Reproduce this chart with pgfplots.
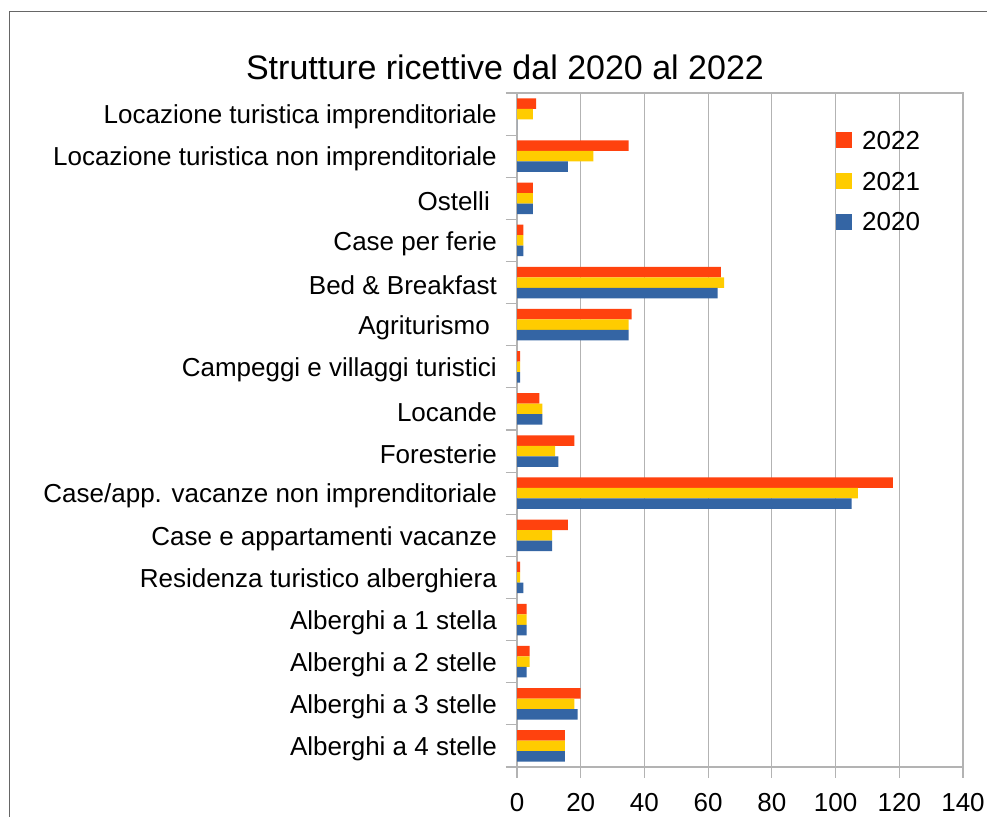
\documentclass[border=0pt]{standalone}
\usepackage{pgfplots}
\pgfplotsset{compat=1.18}
\usepackage{fontspec}
\setmainfont{Liberation Sans}
\definecolor{c22}{HTML}{FF420E}
\definecolor{c21}{HTML}{FFCC00}
\definecolor{c20}{HTML}{3465A4}
\definecolor{gridc}{HTML}{B3B3B3}
\begin{document}
\begin{tikzpicture}
\useasboundingbox (0pt,0pt) rectangle (987pt,816pt);
\fill[white] (0pt,0pt) rectangle (987pt,816pt);
\draw[line width=1.5pt, color=black!60] (9.5pt,-5pt) -- (9.5pt,804.5pt) -- (1000pt,804.5pt);
\node[anchor=base, inner sep=0pt, font=\fontsize{34}{40}\selectfont] at (505pt,736pt) {Strutture ricettive dal 2020 al 2022};
\begin{axis}[
  at={(517pt,49pt)}, anchor=south west,
  width=446pt, height=674pt, scale only axis,
  xbar, bar width=10.5pt,
  xmin=0, xmax=140, ymin=-0.5, ymax=15.5,
  xtick={0,20,...,140},
  minor xtick={0,20,...,140},
  ytick={0,...,15},
  yticklabels={Alberghi a 4 stelle, Alberghi a 3 stelle, Alberghi a 2 stelle, Alberghi a 1 stella, Residenza turistico alberghiera, Case e appartamenti vacanze, Case/app. vacanze non imprenditoriale, Foresterie, Locande, Campeggi e villaggi turistici, Agriturismo\kern7pt, Bed \& Breakfast, Case per ferie, Ostelli\kern7pt, Locazione turistica non imprenditoriale, Locazione turistica imprenditoriale},
  minor ytick={-0.5,0.5,1.5,2.5,3.5,4.5,5.5,6.5,7.5,8.5,9.5,10.5,11.5,12.5,13.5,14.5,15.5},
  xtick pos=bottom, ytick pos=left,
  tick align=outside,
  major tick length=0pt, minor tick length=11pt,
  every tick/.style={gridc, line width=1.2pt},
  axis line style={gridc, line width=1.2pt},
  xmajorgrids, major grid style={gridc, line width=1.2pt},
  /pgf/number format/assume math mode=true,
  ticklabel style={font=\fontsize{26}{31}\selectfont, text=black},
  xticklabel style={anchor=north, inner sep=0pt, yshift=-26pt},
  yticklabel style={anchor=east, inner sep=0pt, xshift=-20pt, yshift=-3pt},
  legend cell align=left,
  legend style={at={(0.7152,0.9436)}, anchor=north west, draw=none, fill=none,
    inner sep=0pt, font=\fontsize{26}{31}\selectfont, row sep=21pt, column sep=10pt,
    nodes={inner sep=0pt}},
  legend image code/.code={\fill[#1,draw=none] (0pt,-7.4pt) rectangle (16pt,8.6pt);},
]
\addplot[fill=c22, draw=none, bar shift=10.5pt] coordinates {
(15,0) (20,1) (4,2) (3,3) (1,4) (16,5) (118,6) (18,7) (7,8) (1,9) (36,10) (64,11) (2,12) (5,13) (35,14) (6,15)};
\addplot[fill=c21, draw=none, bar shift=0pt] coordinates {
(15,0) (18,1) (4,2) (3,3) (1,4) (11,5) (107,6) (12,7) (8,8) (1,9) (35,10) (65,11) (2,12) (5,13) (24,14) (5,15)};
\addplot[fill=c20, draw=none, bar shift=-10.5pt] coordinates {
(15,0) (19,1) (3,2) (3,3) (2,4) (11,5) (105,6) (13,7) (8,8) (1,9) (35,10) (63,11) (2,12) (5,13) (16,14) (0,15)};
\legend{2022,2021,2020}
\end{axis}
\end{tikzpicture}
\end{document}
